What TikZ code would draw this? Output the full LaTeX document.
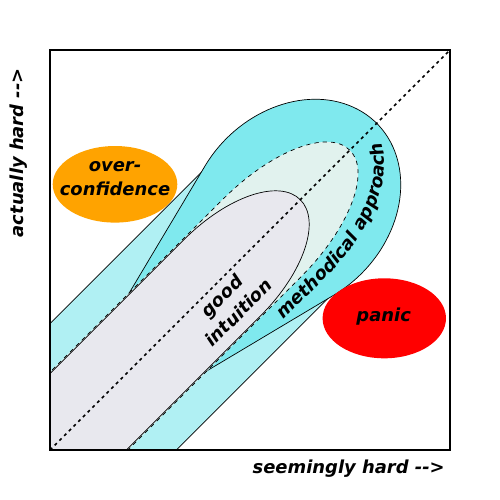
\documentclass[tikz,border=0pt]{standalone}
\usepackage{fontspec}
\setmainfont{DejaVu Sans}[Ligatures=TeXOff]
\usetikzlibrary{decorations.text}

\definecolor{bandcyan}{RGB}{176,240,243}
\definecolor{approachcyan}{RGB}{127,233,238}
\definecolor{methodgreen}{RGB}{225,242,238}
\definecolor{intuitiongrey}{RGB}{232,232,238}
\definecolor{overorange}{RGB}{255,163,0}

\newcommand{\lblfont}{\fontsize{12.9}{17}\selectfont\bfseries\itshape}

\begin{document}
\begin{tikzpicture}[x=0.72pt,y=0.72pt,yscale=-1,xscale=1]
\useasboundingbox (0,0) rectangle (500,500);

\coordinate (origin) at (50,450);
\coordinate (farcorner) at (450,50);

\begin{scope}
\clip (50,50) rectangle (450,450);
%Shapes along the diagonal (u along it, v across it)
\begin{scope}[shift={(50,450)},rotate=-45]
%Outer band
\draw [fill=bandcyan, line width=0.5pt] (-150,-89.4) rectangle (345,89.4);
%Methodical approach
\draw [fill=approachcyan, line width=0.5pt] (161,-53.5) -- (310.43,-91.23) arc [start angle=-107.19, end angle=107.19, x radius=117, y radius=95.5] -- (161,53.5) -- cycle;
%Dashed region
\draw [fill=methodgreen, dashed, line width=0.5pt] (-150,-55) -- (300,-55) arc [start angle=-90, end angle=90, x radius=124, y radius=55] -- (-150,55) -- cycle;
%Good intuition
\draw [fill=intuitiongrey, line width=0.5pt] (-150,-54) -- (244,-54) arc [start angle=-90, end angle=90, x radius=110, y radius=54] -- (-150,54) -- cycle;
\end{scope}
%Diagonal
\draw [line width=1.2pt, dash pattern=on 2.2pt off 2.6pt] (origin) -- (farcorner);
\end{scope}

%Axes box
\draw [line width=1.2pt] (50,50) rectangle (450,450);

%Ellipses
\fill [overorange] (115,184.3) ellipse [x radius=62.3, y radius=38.3];
\fill [red] (384.3,318.3) ellipse [x radius=61.7, y radius=40];

% Text Node
\node [font=\lblfont, align=center, inner sep=0pt] (overconf) at (115,178.5) {over-\\confidence};
% Text Node
\node [font=\lblfont, anchor=base, inner sep=0pt] (panic) at (383.7,321.7) {panic};
% Text Node
\node [font=\lblfont, align=center, rotate=45, inner sep=0pt] (intuition) at (230,304) {good\\intuition};
% Text Node
\node [font=\lblfont, anchor=base east, inner sep=0pt] (xlabel) at (445,473.3) {seemingly hard -->};
% Text Node
\node [font=\lblfont, rotate=90, anchor=base east, inner sep=0pt] (ylabel) at (23.3,68) {actually hard -->};
% Text along the band
\path [decorate, decoration={text along path, text={|\lblfont|methodical approach}, text align=center}] (271.3,331.9) -- (327.9,275.3) .. controls (380.6,222.6) and (400.2,156.8) .. (371.7,128.3);

\end{tikzpicture}
\end{document}
